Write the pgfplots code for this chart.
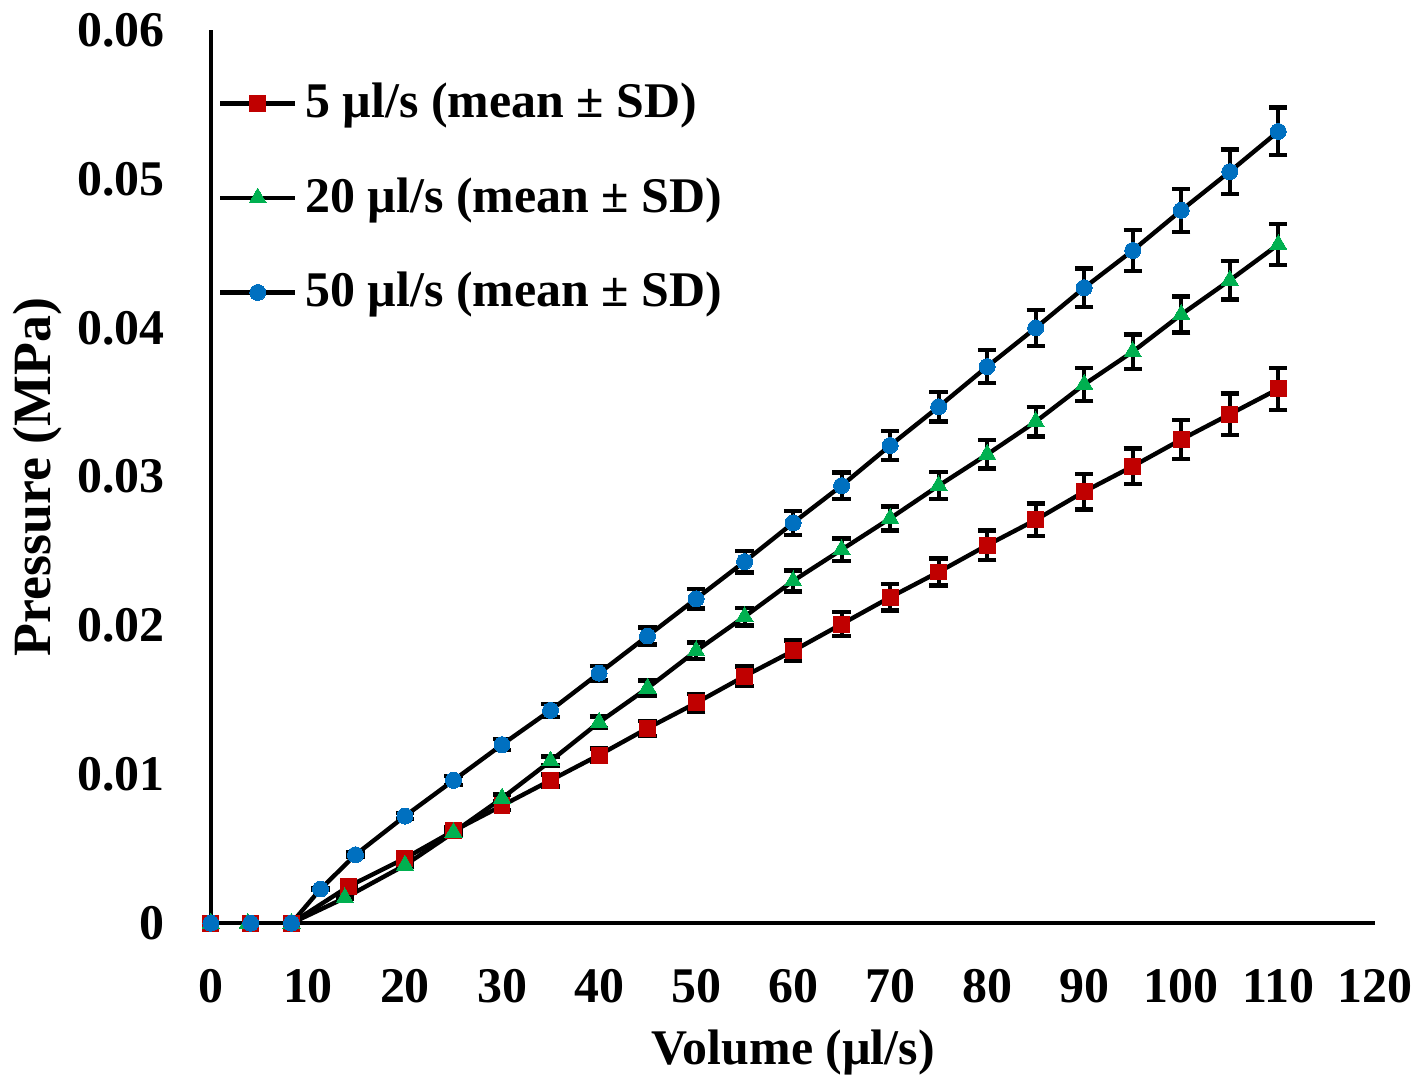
\documentclass[border=0pt]{standalone}
\usepackage{pgfplots}
\pgfplotsset{compat=1.18}
\usepackage{fontspec}
\setmainfont{Liberation Serif}
\definecolor{cred}{RGB}{192,0,0}
\definecolor{cgreen}{RGB}{0,176,80}
\definecolor{cblue}{RGB}{0,112,192}
\begin{document}
\begin{tikzpicture}
\begin{axis}[
  scale only axis,
  width=291.75pt, height=223.75pt,
  xmin=0, xmax=120, ymin=0, ymax=0.06,
  axis x line=bottom, axis y line=left,
  axis line style={-, line width=0.9pt},
  xtick={0,10,...,120},
  ytick={0,0.01,0.02,0.03,0.04,0.05,0.06},
  yticklabels={0,0.01,0.02,0.03,0.04,0.05,0.06},
  scaled y ticks=false,
  major tick length=0pt,
  /pgf/number format/assume math mode=true,
  tick label style={font=\fontsize{12.5}{14}\selectfont\bfseries},
  xticklabel style={yshift=-8pt},
  yticklabel style={xshift=-8pt},
  xlabel={Volume (µl/s)},
  ylabel={Pressure (MPa)},
  xlabel style={font=\fontsize{12.5}{14}\selectfont\bfseries, yshift=0pt},
  ylabel style={font=\fontsize{13.5}{15}\selectfont\bfseries, yshift=-3pt},
  legend style={at={(0.002,0.955)}, anchor=north west, draw=none, fill=none,
    font=\fontsize{12.5}{14}\selectfont\bfseries, row sep=9.5pt,
    inner sep=1pt, column sep=0pt},
  legend cell align=left,
  legend image code/.code={
    \draw[mark repeat=2,mark phase=2] plot coordinates {(0cm,0cm) (0.33cm,0cm) (0.66cm,0cm)};},
  every axis plot/.append style={black, line width=1.1pt},
  error bars/y dir=both, error bars/y explicit,
  error bars/error bar style={black, line width=1pt},
  error bars/error mark options={rotate=90, black, mark size=2.3pt, line width=1.1pt},
]
\addplot[mark=square*, mark size=2pt, mark options={fill=cred, draw=cred, line width=0pt}]
coordinates {
 (0,0) +- (0,0) (4.1,0) +- (0,0) (8.3,0) +- (0,0)
 (14.2,0.00248) +- (0,0.0001) (20,0.00436) +- (0,0.0002) (25,0.0062) +- (0,0.00025)
 (30,0.0079) +- (0,0.0003) (35,0.0096) +- (0,0.0004) (40,0.0113) +- (0,0.00045)
 (45,0.0131) +- (0,0.0005) (50,0.0148) +- (0,0.0006) (55,0.0166) +- (0,0.00066)
 (60,0.0183) +- (0,0.0007) (65,0.0201) +- (0,0.0008) (70,0.0219) +- (0,0.0009)
 (75,0.0236) +- (0,0.0009) (80,0.0254) +- (0,0.001) (85,0.0271) +- (0,0.0011)
 (90,0.0290) +- (0,0.0012) (95,0.0307) +- (0,0.0012) (100,0.0325) +- (0,0.0013)
 (105,0.0342) +- (0,0.0014) (110,0.0359) +- (0,0.0014)
};
\addlegendentry{5 µl/s (mean ± SD)}
\addplot[mark=triangle*, mark size=2.5pt, mark options={fill=cgreen, draw=cgreen, line width=0pt}]
coordinates {
 (0,0) +- (0,0) (3.8,0) +- (0,0) (8.3,0) +- (0,0)
 (13.8,0.0017) +- (0,0.00005) (20,0.0039) +- (0,0.0001) (25,0.0061) +- (0,0.0002)
 (30,0.0084) +- (0,0.00025) (35,0.0109) +- (0,0.0003) (40,0.0135) +- (0,0.0004)
 (45,0.0158) +- (0,0.0005) (50,0.0183) +- (0,0.00055) (55,0.0206) +- (0,0.0006)
 (60,0.0230) +- (0,0.0007) (65,0.0251) +- (0,0.00075) (70,0.0272) +- (0,0.0008)
 (75,0.0294) +- (0,0.0009) (80,0.0315) +- (0,0.00095) (85,0.0337) +- (0,0.001)
 (90,0.0362) +- (0,0.0011) (95,0.0384) +- (0,0.00115) (100,0.0409) +- (0,0.0012)
 (105,0.0432) +- (0,0.0013) (110,0.0456) +- (0,0.00137)
};
\addlegendentry{20 µl/s (mean ± SD)}
\addplot[mark=*, mark size=2pt, mark options={fill=cblue, draw=cblue, line width=0pt}]
coordinates {
 (0,0) +- (0,0) (4.1,0) +- (0,0) (8.3,0) +- (0,0)
 (11.3,0.0023) +- (0,0.00007) (14.9,0.0046) +- (0,0.00014) (20,0.0072) +- (0,0.0002)
 (25,0.0096) +- (0,0.0003) (30,0.0120) +- (0,0.00036) (35,0.0143) +- (0,0.00043)
 (40,0.0168) +- (0,0.0005) (45,0.0193) +- (0,0.00058) (50,0.0218) +- (0,0.00065)
 (55,0.0243) +- (0,0.00073) (60,0.0269) +- (0,0.0008) (65,0.0294) +- (0,0.00088)
 (70,0.0321) +- (0,0.00096) (75,0.0347) +- (0,0.001) (80,0.0374) +- (0,0.0011)
 (85,0.0400) +- (0,0.0012) (90,0.0427) +- (0,0.0013) (95,0.0452) +- (0,0.00136)
 (100,0.0479) +- (0,0.00144) (105,0.0505) +- (0,0.0015) (110,0.0532) +- (0,0.0016)
};
\addlegendentry{50 µl/s (mean ± SD)}
\end{axis}
\end{tikzpicture}
\end{document}
